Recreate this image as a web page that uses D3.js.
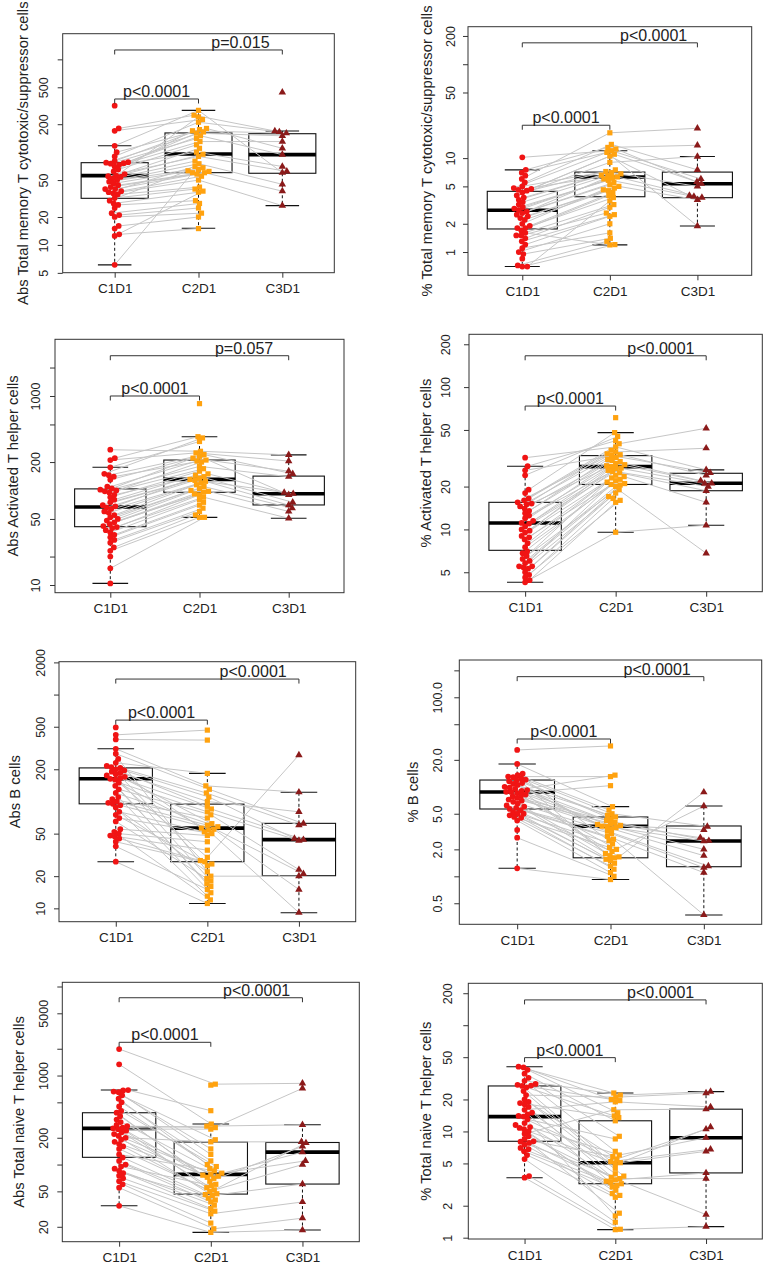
<!DOCTYPE html>
<html><head><meta charset="utf-8">
<script src="https://cdn.jsdelivr.net/npm/d3@7/dist/d3.min.js"></script>
<style>
body{margin:0;background:#fff}
text{font-family:"Liberation Sans",Arial,Helvetica,sans-serif;fill:#222}
</style>
</head><body>
<svg id="c" width="768" height="1269"></svg>
<script>
const categories = ["C1D1","C2D1","C3D1"];
const colors = ["#f01414","#ffa20f","#8b1a1a"];

// ---------- Panel 1 ----------
const p1Title = "Abs Total memory T cytotoxic/suppressor cells";
const p1C1 = [317,180,170,117,100, 90,80,78,77,76, 75,73,70,65,62, 58,56,55,54,52, 50,48,46,44,42, 40,40,38,37,36, 35,32,30,28,27, 25,22,21,20,16, 15,13,12.5,6.1];
const p1C2 = [null,250,225,282,180, 210,175,160,165,150, 140,100,130,120,170, 95,110,90,80,240, 75,68,65,62,60, 58,null,55,70,50, 42,40,63,37,30, null,28,25,22,20, null,15,38,60];
const p1C3Id = [0,1,3,4,5,7,9,11,12,14,17,20,24,29];
const p1C3 = [442,169,60,110,165,150,94,70,130,160,62,45,38,26.5];
const p1Box = [[6.1,31.8,55.8,77,117],[15.1,60.1,95.6,161,282],[26.5,59.2,94,158,169]];
const p1Ticks = [5,10,20,50,200,500,1000];
const p1TickLabels = ["5","10","20","50","200","500",""];
const p1PLabels = ["p<0.0001","p=0.015"];
const p1Brackets = [374,1262];

// ---------- Panel 2 ----------
const p2Title = "% Total memory T cytotoxic/suppressor cells";
const p2C1 = [10.2,7.5,7,6.5,6, 5.5,5,4.8,4.7,4.6, 4.5,4.3,4,3.8,3.6, 3.4,3.2,3.0,2.9,2.8, 2.7,2.6,2.5,2.4,2.3, 2.2,2.0,1.9,1.8,1.8, 1.7,1.6,1.5,1.5,1.4, 1.3,1.2,1.1,1.0,0.95, 0.85,0.72,0.70,0.70];
const p2C2 = [12,13,11.5,null,18.6, 14,7.5,12.5,11,6.8, 10.5,7.2,9,6.6,7, 6.5,null,6.3,5.8,6.2, 6,5.2,5.5,4.8,5, 4.5,4.6,4.3,3.8,null, 4,1.19,2.6,3.2,3, 2.5,2.4,1.6,2,1.4, null,1.3,1.2,3.5];
const p2C3Id = [4,1,0,5,7,8,10,12,14,17,20,24,2];
const p2C3 = [20.8,13.7,6,7.5,5.34,5.6,4,10.4,5,3.8,3.9,3.6,1.89];
const p2Box = [[0.70,1.76,2.78,4.43,7.5],[1.19,3.88,6.3,7.1,12],[1.89,3.79,5.34,7.1,10.4]];
const p2Ticks = [1,2,5,10,50,100,200];
const p2TickLabels = ["1","2","5","10","50","","200"];
const p2PLabels = ["p<0.0001","p<0.0001"];
const p2Brackets = [22.4,169];

// ---------- Panel 3 ----------
const p3Title = "Abs Activated T helper cells";
const p3C1 = [270,220,210,176,150, 145,140,130,110,105, 102,100,98,95,90, 85,80,75,70,68, 66,64,60,58,55, 52,50,48,46,44, 42,41,40,38,36, 34,32,30,28,25, 23,20,15,10.4];
const p3C2 = [260,371,250,330,360, 240,210,230,null,220, 205,200,180,170,150, 160,145,140,135,131, 128,null,125,120,115, 110,105,100,98,96, 92,90,85,null,80, 75,70,65,60,55, 52,null,52,null,830];
const p3C3Id = [0,2,5,9,7,12,14,16,19,22,25,28,32];
const p3C3 = [238,205,150,160,90,140,95,75,92.5,70,65,60,50.8];
const p3Box = [[10.4,41.4,66.8,104,176],[52,95.7,131,210,371],[50.8,70.3,92.5,142,238]];
const p3Ticks = [10,20,50,200,500,1000,2000];
const p3TickLabels = ["10","","50","200","","1000",""];
const p3PLabels = ["p<0.0001","p=0.057"];
const p3Brackets = [1000,2667];

// ---------- Panel 4 ----------
const p4Title = "% Activated T helper cells";
const p4C1 = [31.9,27.8,26,24,19, 18,16.5,16,15.5,15.2, 15,14.5,14,13.5,13, 12.5,12,11.5,11.1,11, 10.5,10,9.8,9.5,9, 8.8,8.5,8,7.5,7, 6.8,6.5,6.2,6,5.8, 5.5,5.5,5.4,5.3,5, 4.8,4.6,4.4,4.25];
const p4C2 = [38,42,33.5,45,47.9, null,36,40,35,30, 34,33,32,31,30.5, 29,28.5,null,28,26.8, 27.6,27,26,25.5,25, 24,23.5,23,22.5,null, 22,21.5,21,20.7,20.5, 20,19,18,null,17, 16.5,16,15.5,9.55,61];
const p4C3Id = [7,8,0,11,2,13,15,20,22,24,26,43,33];
const p4C3 = [51.4,37.2,26.2,25,24,22,21.1,21,20,18.7,15.5,10.7,6.8];
const p4Box = [[4.25,7.13,11.1,15.5,27.8],[9.55,20.7,27.6,33,47.9],[10.7,18.7,21.1,24.8,26.2]];
const p4Ticks = [5,10,20,50,100,200];
const p4TickLabels = ["5","10","20","50","100","200"];
const p4PLabels = ["p<0.0001","p<0.0001"];
const p4Brackets = [73.6,166];

// ---------- Panel 5 ----------
const p5Title = "Abs B cells";
const p5C1 = [493,420,380,311,280, 250,230,215,210,206, 200,195,190,185,180, 175,170,165,163,160, 150,140,130,120,110, 105,100,97,95,92, 88,80,75,70,65, 55,52,50,48,47, 45,42,38,27.3];
const p5C2 = [null,465,375,140,130, 20,183,90,25,120, 56.3,110,18,100,62, 17,null,85,54,30, 80,16,75,58,14, 70,60,22,null,55, 13,52,27.3,50,19, 48,12,42,35,null, 28,26,15,11.1];
const p5C3Id = [19,3,4,9,11,13,17,20,22,26,5,29,33];
const p5C3 = [272,122,62,60,45,80,43.9,43,23,21,20,15,9.1];
const p5Box = [[27.3,95,163,206,311],[11.1,27.3,56.3,94.4,183],[9.1,20.2,43.9,62.4,122]];
const p5Ticks = [10,20,50,200,500,1000,2000];
const p5TickLabels = ["10","20","50","200","500","","2000"];
const p5PLabels = ["p<0.0001","p<0.0001"];
const p5Brackets = [577,1397];

// ---------- Panel 6 ----------
const p6Title = "% B cells";
const p6C1 = [25.8,18,14,13.5,13, 12.8,12.5,12,11.8,11.5, 11,10.8,10.5,10,9.8, 9.5,9.2,9,8.8,8.75, 8.5,8.2,8,7.8,7.5, 7.2,7,6.8,6.5,6.2, 6,5.8,5.65,5.5,5.2, 5,5,4.8,4.6,4.5, 4.2,3.3,2.7,1.23];
const p6C2 = [28.6,6,null,5.5,13, 4.4,5,2.5,4.8,3.8, 1.8,4.6,3.63,2,4.2, null,3.7,1.7,13.5,3.6, 10.3,3.5,1.65,4,3.4, 1.5,3.9,3.2,1.61,3, null,2.8,1.55,2.6,1.4, 2.3,1.9,2.1,1.3,1.2, 1.1,null,1.0,0.92];
const p6C3Id = [22,36,6,9,14,16,19,21,24,27,29,31,33];
const p6C3 = [8.7,6.1,3.6,3.3,2.5,2.7,2.48,2.0,1.7,1.3,1.25,1.1,0.37];
const p6Box = [[1.23,5.65,8.75,11.9,18],[0.92,1.61,3.63,4.6,6.0],[0.37,1.28,2.48,3.65,6.1]];
const p6Ticks = [0.5,1,2,5,20,50,100,200];
const p6TickLabels = ["0.5","","2.0","5.0","20.0","","100.0",""];
const p6PLabels = ["p<0.0001","p<0.0001"];
const p6Brackets = [34.2,170];

// ---------- Panel 7 ----------
const p7Title = "Abs Total naive T helper cells";
const p7C1 = [1985,1336,687,680,660, 650,600,550,500,450, 400,382,350,320,300, 280,270,260,255,250, 240,230,220,210,200, 190,180,170,160,150, 130,120,110,100,95, 90,85,80,75,70, 65,60,55,34.4];
const p7C2 = [800,285,403,null,190, 130,150,100,110,80, 95,65,60,90,null, 55,260,270,78,250, 76,52,45,74,180, 72,70,null,50,47, 85,46,40,38,58, 35,32,42,null,30, 28,22,19,17.3,780];
const p7C3Id = [0,19,17,24,21,11,25,9,28,22,40,42,43];
const p7C3 = [817,718,280,180,175,160,138,110,100,60.4,38,25,18.4];
const p7Box = [[34.4,120.6,255,382,687],[17.3,46.6,77.6,179,285],[18.4,60.4,138,177,280]];
const p7Ticks = [20,50,100,200,500,1000,2000,5000,10000];
const p7TickLabels = ["20","50","","200","","1000","","5000",""];
const p7PLabels = ["p<0.0001","p<0.0001"];
const p7Brackets = [2362,7480];

// ---------- Panel 8 ----------
const p8Title = "% Total naive T helper cells";
const p8C1 = [40.7,40,38,35,32, 30,28,27.5,27,26.8, 26,24,22,20,19, 18.5,18,17,16,15, 14.5,14,13.8,13,12, 11.5,11,10.8,10.5,10, 9.5,9,8.5,8.08,8, 7.8,7.5,7,6.8,6.5, 6,5.5,3.8,3.67];
const p8C2 = [23,20,15,12.6,null, 22,9,19.5,6.5,5.2, 14,4.5,21,5.5,3.8, 13.5,3.5,null,19,4, 3.3,5.08,1.6,8.5,3.22, 2.8,6,5,2.5,null, 16,3.7,1.7,5.8,3.6, 3.1,2.6,3.4,null,3, 2.4,1.4,1.2,1.19];
const p8C3Id = [5,12,18,30,21,13,26,9,27,16,34,31,42];
const p8C3 = [23.7,23,17,16.2,11,10.5,8.73,6.8,6.5,4.07,3.6,1.65,1.27];
const p8Box = [[3.67,8.08,13.8,26.8,40.7],[1.19,3.22,5.08,12.6,23],[1.27,4.07,8.73,16.2,23.7]];
const p8Ticks = [1,2,5,10,20,50,100,200];
const p8TickLabels = ["1","2","5","10","20","50","","200"];
const p8PLabels = ["p<0.0001","p<0.0001"];
const p8Brackets = [49.5,173];

// ---------- Layout (pixels) ----------
const layouts = [
  {l:62.7, r:334.3, t:33.7, b:272.7, dom:[5.02,1890], tickX:43, titleX:23},
  {l:468, r:751.7, t:26.7, b:275.3, dom:[0.565,251], tickX:450.7, titleX:427},
  {l:55, r:344, t:339.3, b:592.7, dom:[8.29,3980], tickX:35, titleX:12.5},
  {l:469, r:762.3, t:334.3, b:591.7, dom:[3.65,235], tickX:445.7, titleX:425.7},
  {l:59, r:355.7, t:661.7, b:921.7, dom:[7.5,2030], tickX:40, titleX:15},
  {l:459.3, r:761.7, t:660, b:924.3, dom:[0.291,261], tickX:437.3, titleX:412.3},
  {l:62.3, r:359.3, t:982.3, b:1241.7, dom:[13.6,11150], tickX:43.3, titleX:18.3},
  {l:468.3, r:762.3, t:983.3, b:1239, dom:[0.972,248], tickX:447.3, titleX:425.7}
];

function expandC3(ids, vals, n){
  const a = new Array(n).fill(null);
  ids.forEach((id,k)=>{a[id]=vals[k];});
  return a;
}

const panels = [
  [p1Title,p1C1,p1C2,p1C3Id,p1C3,p1Box,p1Ticks,p1TickLabels,p1PLabels,p1Brackets],
  [p2Title,p2C1,p2C2,p2C3Id,p2C3,p2Box,p2Ticks,p2TickLabels,p2PLabels,p2Brackets],
  [p3Title,p3C1,p3C2,p3C3Id,p3C3,p3Box,p3Ticks,p3TickLabels,p3PLabels,p3Brackets],
  [p4Title,p4C1,p4C2,p4C3Id,p4C3,p4Box,p4Ticks,p4TickLabels,p4PLabels,p4Brackets],
  [p5Title,p5C1,p5C2,p5C3Id,p5C3,p5Box,p5Ticks,p5TickLabels,p5PLabels,p5Brackets],
  [p6Title,p6C1,p6C2,p6C3Id,p6C3,p6Box,p6Ticks,p6TickLabels,p6PLabels,p6Brackets],
  [p7Title,p7C1,p7C2,p7C3Id,p7C3,p7Box,p7Ticks,p7TickLabels,p7PLabels,p7Brackets],
  [p8Title,p8C1,p8C2,p8C3Id,p8C3,p8Box,p8Ticks,p8TickLabels,p8PLabels,p8Brackets]
];

const svg = d3.select("#c");

function swarm(ys, d){
  const idx = ys.map((v,i)=>i).filter(i=>ys[i]!=null).sort((a,b)=>ys[b]-ys[a]);
  const placed = [];
  const off = new Array(ys.length).fill(null);
  idx.forEach(i=>{
    let best = 0;
    for(let k=0;k<400;k++){
      const o = (k%2 ? 1 : -1) * Math.ceil(k/2) * 0.5;
      if(placed.every(p => (p.o-o)*(p.o-o) + (p.y-ys[i])*(p.y-ys[i]) >= d*d)){ best = o; break; }
    }
    off[i] = best;
    placed.push({o:best, y:ys[i]});
  });
  return off;
}

panels.forEach((p, pi) => {
  const [title,c1,c2,c3Id,c3Vals,box,ticks,tickLabels,pLabels,brackets] = p;
  const L = layouts[pi];
  const n = Math.max(c1.length, c2.length);
  const groups = [c1, c2, expandC3(c3Id, c3Vals, n)];
  const g = svg.append("g");
  const x = d3.scaleLinear().domain([0.38, 3.62]).range([L.l, L.r]);
  const y = d3.scaleLog().domain(L.dom).range([L.b, L.t]);
  const u = x(1) - x(0);

  // boxes
  box.forEach((s, i) => {
    const cx = x(i+1);
    const hb = 0.4*u, hc = 0.2*u;
    g.append("line").attr("x1",cx).attr("x2",cx).attr("y1",y(s[3])).attr("y2",y(s[4]))
      .attr("stroke","#111").attr("stroke-width",1).attr("stroke-dasharray","3,2.5");
    g.append("line").attr("x1",cx).attr("x2",cx).attr("y1",y(s[1])).attr("y2",y(s[0]))
      .attr("stroke","#111").attr("stroke-width",1).attr("stroke-dasharray","3,2.5");
    [s[0], s[4]].forEach(v => g.append("line").attr("x1",cx-hc).attr("x2",cx+hc)
      .attr("y1",y(v)).attr("y2",y(v)).attr("stroke","#111").attr("stroke-width",1.1));
    g.append("rect").attr("x",cx-hb).attr("width",2*hb).attr("y",y(s[3])).attr("height",y(s[1])-y(s[3]))
      .attr("fill","none").attr("stroke","#111").attr("stroke-width",1.1);
    g.append("line").attr("x1",cx-hb).attr("x2",cx+hb).attr("y1",y(s[2])).attr("y2",y(s[2]))
      .attr("stroke","#000").attr("stroke-width",3.6);
  });

  // point positions (beeswarm)
  const pos = groups.map((arr, gi) => {
    const ys = [];
    for(let k=0;k<n;k++){ const v = arr[k]; ys.push(v==null ? null : y(v)); }
    const off = swarm(ys, 4.6);
    return ys.map((yy,k) => yy==null ? null : {x: x(gi+1) + off[k], y: yy});
  });

  // connecting lines
  const lg = g.append("g").attr("stroke","#c6c6c6").attr("stroke-width",1);
  for(let k=0;k<n;k++){
    for(let gi=0; gi<2; gi++){
      const a = pos[gi][k], b = pos[gi+1][k];
      if(a && b) lg.append("line").attr("x1",a.x).attr("y1",a.y).attr("x2",b.x).attr("y2",b.y);
    }
  }

  // points
  const symbols = [d3.symbolCircle, d3.symbolSquare, d3.symbolTriangle];
  const sizes = [26, 27, 24];
  pos.forEach((arr, gi) => {
    const sym = d3.symbol().type(symbols[gi]).size(sizes[gi]);
    arr.forEach(pt => {
      if(!pt) return;
      g.append("path").attr("d", sym()).attr("transform",`translate(${pt.x},${pt.y})`)
        .attr("fill", colors[gi]);
    });
  });

  // frame
  g.append("rect").attr("x",L.l).attr("y",L.t).attr("width",L.r-L.l).attr("height",L.b-L.t)
    .attr("fill","none").attr("stroke","#333").attr("stroke-width",1);

  // y axis
  const ya = g.append("g").attr("transform",`translate(${L.l},0)`)
    .call(d3.axisLeft(y).tickValues(ticks).tickFormat((d,i)=>tickLabels[i]).tickSize(5));
  ya.select(".domain").remove();
  ya.selectAll(".tick line").attr("stroke","#333");
  ya.selectAll(".tick text")
    .attr("x", null).attr("dy", null)
    .attr("transform", `translate(${L.tickX + 4.5 - L.l},0) rotate(-90)`)
    .attr("text-anchor","middle")
    .style("font-size","12.5px").style("font-family",'"Liberation Sans",Arial,sans-serif').attr("fill","#222");

  // x axis
  const xa = g.append("g").attr("transform",`translate(0,${L.b})`)
    .call(d3.axisBottom(x).tickValues([1,2,3]).tickFormat((d,i)=>categories[i]).tickSize(5).tickPadding(6));
  xa.select(".domain").remove();
  xa.selectAll(".tick line").attr("stroke","#333");
  xa.selectAll(".tick text").style("font-size","13.5px")
    .style("font-family",'"Liberation Sans",Arial,sans-serif').attr("fill","#222");

  // y title
  g.append("text").attr("transform",`translate(${L.titleX + 5.2},${(L.t+L.b)/2}) rotate(-90)`)
    .attr("text-anchor","middle").style("font-size","14.8px").text(title);

  // brackets
  brackets.forEach((v, bi) => {
    const k = bi + 2;
    const yy = y(v);
    g.append("path").attr("d",`M${x(1)},${yy+4.5}V${yy}H${x(k)}V${yy+4.5}`)
      .attr("fill","none").attr("stroke","#333").attr("stroke-width",1);
    g.append("text").attr("x", x(k-0.5)).attr("y", yy-2).attr("text-anchor","middle")
      .style("font-size","16px").text(pLabels[bi]);
  });
});
</script>
</body></html>
